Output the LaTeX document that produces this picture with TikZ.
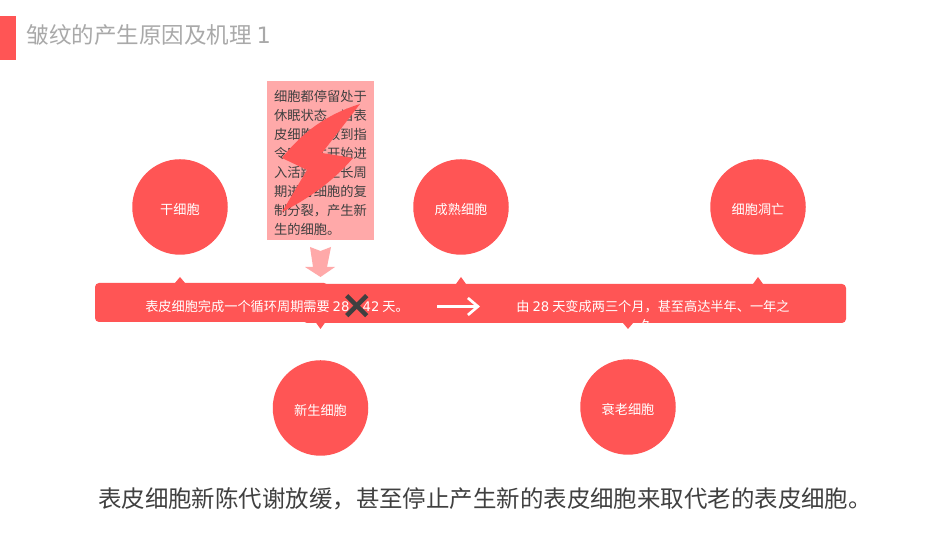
\documentclass[tikz,border=0pt]{standalone}
\usepackage{tikz}
\usepackage{fontspec}
\usetikzlibrary{arrows.meta}
\setmainfont{Noto Sans CJK SC}
\newfontfamily\lat{DejaVu Sans}
\definecolor{redmain}{HTML}{FF5555}
\definecolor{pinkmain}{HTML}{FFA9A9}
\definecolor{darktext}{HTML}{404040}
\definecolor{graytext}{HTML}{A9A9A9}
\tikzset{
    stagecircle/.style={circle,fill=redmain,text=white,minimum size=0.955cm,inner sep=0pt,text height=4pt,text depth=0pt,font=\fontsize{3.75}{5}\selectfont},
    barbox/.style={fill=redmain,rounded corners=0.04cm,minimum height=0.39cm,inner sep=0pt},
    bartext/.style={text=white,align=center,inner sep=0pt,font=\fontsize{3.75}{5.55}\selectfont}
}
\begin{document}
\begin{tikzpicture}
    \useasboundingbox (0,0) rectangle (9.5,5.35);
    \fill[white] (0,0) rectangle (9.5,5.35);

    % title
    \fill[redmain] (0,4.75) rectangle (0.16,5.19);
    \node[anchor=west,inner sep=0pt,text=graytext,font=\fontsize{6.4}{8}\selectfont] (title) at (0.26,5.0) {皱纹的产生原因及机理 {\lat 1}};

    % small ticks on the bar
    \fill[redmain] (1.75,2.52) -- (1.80,2.58) -- (1.85,2.52);
    \fill[redmain] (4.56,2.51) -- (4.61,2.58) -- (4.66,2.51);
    \fill[redmain] (7.53,2.51) -- (7.58,2.58) -- (7.63,2.51);
    \fill[redmain] (3.155,2.13) -- (3.205,2.06) -- (3.255,2.13);
    \fill[redmain] (6.23,2.12) -- (6.28,2.06) -- (6.33,2.12);

    % bar
    \node[barbox,minimum width=2.33cm] (barleft) at (2.115,2.325) {};
    \node[barbox,minimum width=5.43cm] (barright) at (5.745,2.315) {};
    \node[bartext] (textleft) at (2.77,2.29) {表皮细胞完成一个循环周期需要 {\lat 28 - 42} 天。};
    \node[bartext] (textright) at (6.53,2.19) {由 {\lat 28} 天变成两三个月，甚至高达半年、一年之\\久。};

    % stages
    \node[stagecircle] (stem) at (1.80,3.28) {干细胞};
    \node[stagecircle] (mature) at (4.61,3.28) {成熟细胞};
    \node[stagecircle] (dead) at (7.58,3.28) {细胞凋亡};
    \node[stagecircle] (newborn) at (3.205,1.27) {新生细胞};
    \node[stagecircle] (old) at (6.28,1.28) {衰老细胞};

    % note above the bar
    \node[fill=pinkmain,minimum width=1.07cm,minimum height=1.59cm,inner sep=0pt] (note) at (3.205,3.745) {};
    \node[text=darktext,inner sep=0pt,align=left,font=\fontsize{3.78}{5.41}\selectfont] (notetext) at (3.205,3.72)
        {细胞都停留处于\\休眠状态，当表\\皮细胞接收到指\\令时，才开始进\\入活跃的生长周\\期进行细胞的复\\制分裂，产生新\\生的细胞。};
    \fill[pinkmain] (3.10,2.88) -- (3.205,2.84) -- (3.31,2.88) -- (3.27,2.68) -- (3.35,2.68) -- (3.205,2.58) -- (3.05,2.68) -- (3.13,2.68) -- cycle;
    \fill[redmain] (3.60,4.31) .. controls (3.25,4.20) and (3.02,4.02) .. (2.82,3.77) -- (3.07,3.65) -- (2.82,3.23) .. controls (3.02,3.33) and (3.30,3.50) .. (3.53,3.77) -- (3.22,3.82) -- cycle;

    % cross
    \coordinate (crossa) at (3.467,2.393);
    \coordinate (crossb) at (3.667,2.193);
    \coordinate (crossc) at (3.467,2.193);
    \coordinate (crossd) at (3.667,2.393);
    \draw[darktext,line width=0.045cm] (crossa) -- (crossb);
    \draw[darktext,line width=0.045cm] (crossc) -- (crossd);

    % arrow
    \coordinate (arrowstart) at (4.37,2.285);
    \coordinate (arrowend) at (4.80,2.285);
    \draw[white,line width=0.027cm,-{Straight Barb[length=0.1cm,width=0.17cm]}] (arrowstart) -- (arrowend);

    % bottom line
    \node[text=darktext,inner sep=0pt,font=\fontsize{6.67}{8}\selectfont] (summary) at (4.85,0.36) {表皮细胞新陈代谢放缓，甚至停止产生新的表皮细胞来取代老的表皮细胞。};
\end{tikzpicture}
\end{document}
